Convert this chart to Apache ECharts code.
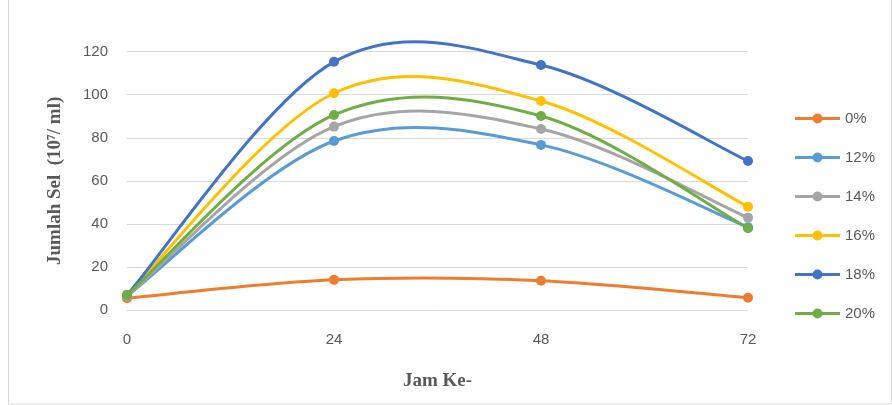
<!DOCTYPE html>
<html><head><meta charset="utf-8">
<script src="https://cdn.jsdelivr.net/npm/echarts@6/dist/echarts.min.js"></script>
<style>html,body{margin:0;padding:0;background:#fff}#c{width:892px;height:405px}</style>
</head><body><div id="c"></div>
<script>
const hours = ['0', '24', '48', '72'];
const seriesNames = ['0%', '12%', '14%', '16%', '18%', '20%'];
const s0 = [5.5, 14, 13.6, 5.7];
const s12 = [6.5, 78.5, 76.7, 38.5];
const s14 = [6.5, 85.2, 84.1, 42.9];
const s16 = [7, 100.7, 97.1, 48];
const s18 = [7, 115.3, 113.8, 69.2];
const s20 = [7, 90.6, 90.1, 38];
const yTicks = [0, 20, 40, 60, 80, 100, 120];
const colors = ['#ED7D31', '#5B9BD5', '#A5A5A5', '#FFC000', '#4472C4', '#70AD47'];
const allData = [s0, s12, s14, s16, s18, s20];

// Excel-like smoothed curve (Catmull-Rom as cubic Bezier) through library coordinates
function curveRenderer(vals, color) {
  return function (params, api) {
    const k = params.dataIndex;
    const n = vals.length;
    if (k >= n - 1) return null;
    const P = i => api.coord([Math.max(0, Math.min(n - 1, i)), vals[Math.max(0, Math.min(n - 1, i))]]);
    const p0 = P(k - 1), p1 = P(k), p2 = P(k + 1), p3 = P(k + 2);
    return {
      type: 'bezierCurve',
      shape: {
        x1: p1[0], y1: p1[1], x2: p2[0], y2: p2[1],
        cpx1: p1[0] + (p2[0] - p0[0]) / 6, cpy1: p1[1] + (p2[1] - p0[1]) / 6,
        cpx2: p2[0] - (p3[0] - p1[0]) / 6, cpy2: p2[1] - (p3[1] - p1[1]) / 6
      },
      style: {stroke: color, lineWidth: 3, fill: null, lineCap: 'round'},
      silent: true
    };
  };
}

const legendIcon = 'path://M0,3.5 L45,3.5 L45,6.5 L0,6.5 Z M17.5,5 A5,5 0 1,1 27.5,5 A5,5 0 1,1 17.5,5 Z';

const markerSeries = seriesNames.map((n, i) => ({
  name: n, type: 'line', data: allData[i], z: 4,
  symbol: 'circle', symbolSize: 10,
  lineStyle: {width: 0, opacity: 0},
  itemStyle: {color: colors[i]}
}));
const curveSeries = seriesNames.map((n, i) => ({
  name: n, type: 'custom', z: 2,
  data: allData[i].map((v, k) => [k, v]),
  encode: {x: 0, y: 1},
  renderItem: curveRenderer(allData[i], colors[i])
}));

const chart = echarts.init(document.getElementById('c'));
chart.setOption({
  animation: false,
  backgroundColor: '#fff',
  graphic: [{type: 'rect', shape: {x: 8.5, y: -1, width: 883, height: 405}, style: {fill: 'none', stroke: '#d9d9d9', lineWidth: 1}, silent: true}],
  grid: {left: 127, right: 144, top: 51.7, bottom: 95},
  legend: {
    orient: 'vertical', left: 790, top: 106, itemWidth: 45, itemHeight: 10, itemGap: 24,
    textStyle: {color: '#595959', fontSize: 15, fontFamily: 'Liberation Sans'},
    data: seriesNames.map((n, i) => ({
      name: n,
      icon: legendIcon,
      itemStyle: {color: colors[i], opacity: 1}
    }))
  },
  xAxis: {
    type: 'category', data: hours, boundaryGap: false,
    axisLine: {show: false}, axisTick: {show: false},
    axisLabel: {color: '#595959', fontSize: 15, fontFamily: 'Liberation Sans', margin: 22},
    name: 'Jam Ke-', nameLocation: 'middle', nameGap: 62,
    nameTextStyle: {fontFamily: 'Liberation Serif', fontWeight: 'bold', fontSize: 19, color: '#595959'}
  },
  yAxis: {
    type: 'value', min: 0, max: 120, interval: 20,
    axisLine: {show: false}, axisTick: {show: false},
    splitLine: {lineStyle: {color: '#d9d9d9', width: 1}},
    axisLabel: {color: '#595959', fontSize: 15, fontFamily: 'Liberation Sans', margin: 19,
      formatter: v => yTicks.includes(v) ? String(v) : ''},
    name: 'Jumlah Sel  (10⁷/ ml)', nameLocation: 'middle', nameGap: 62, nameRotate: 90,
    nameTextStyle: {fontFamily: 'Liberation Serif', fontWeight: 'bold', fontSize: 19, color: '#595959'}
  },
  series: markerSeries.concat(curveSeries)
});
</script></body></html>
